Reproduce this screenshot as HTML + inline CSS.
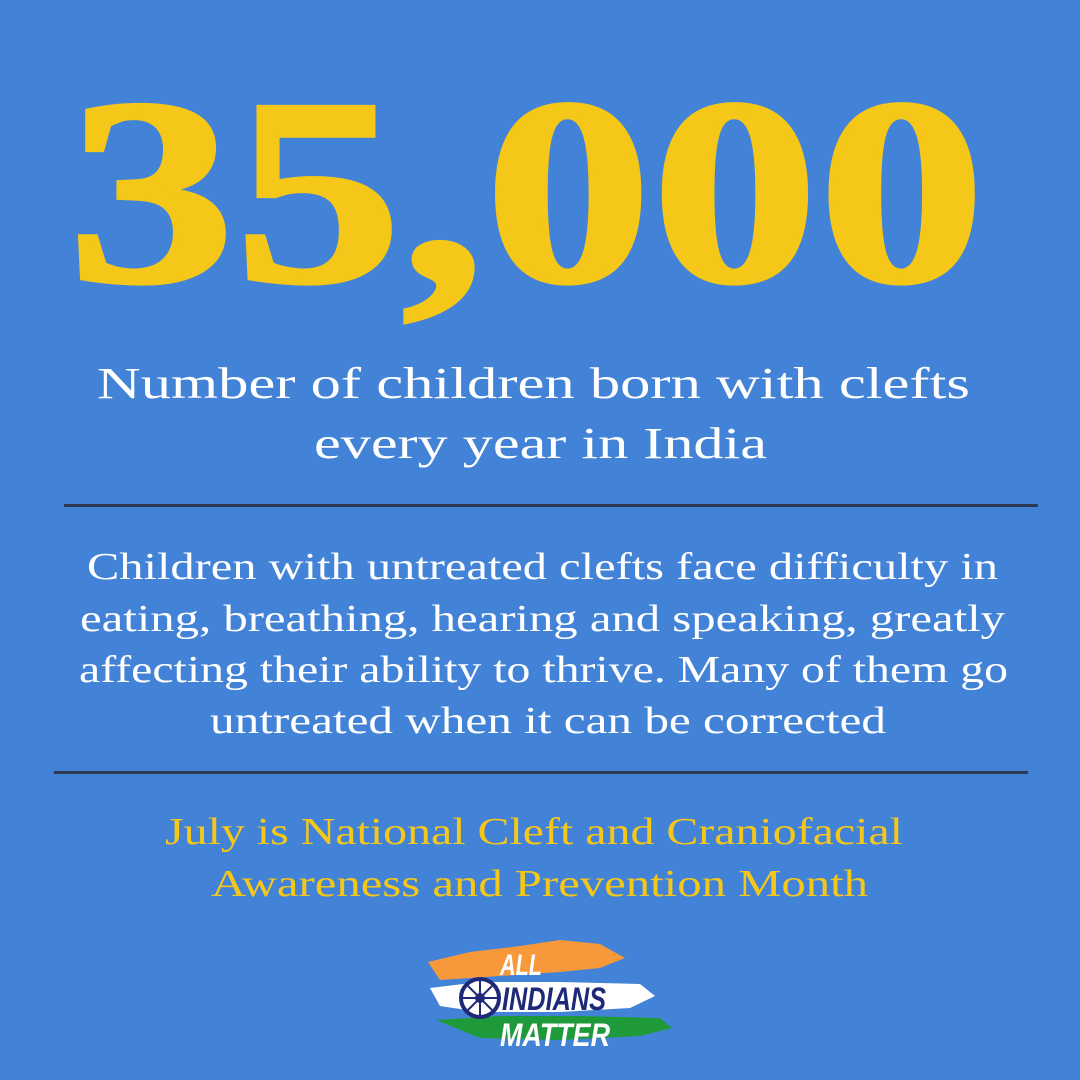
<!DOCTYPE html>
<html><head><meta charset="utf-8"><style>
html,body{margin:0;padding:0;background:#4383d7;}
svg{display:block}
</style></head><body>
<svg width="1080" height="1080" viewBox="0 0 1080 1080" xmlns="http://www.w3.org/2000/svg">
<rect width="1080" height="1080" fill="#4383d7"/>
<text x="68" y="281" font-family="Liberation Serif, serif" font-weight="bold" font-size="266" fill="#f5c718" stroke="#f5c718" stroke-width="4" textLength="917" lengthAdjust="spacingAndGlyphs">35,000</text>
<g font-family="Liberation Serif, serif" fill="#ffffff" font-size="44">
<text x="97" y="398" textLength="873" lengthAdjust="spacingAndGlyphs">Number of children born with clefts</text>
<text x="314" y="458" textLength="453" lengthAdjust="spacingAndGlyphs">every year in India</text>
</g>
<rect x="64" y="504" width="974" height="3" fill="#2e3a55"/>
<g font-family="Liberation Serif, serif" fill="#ffffff" font-size="38">
<text x="87" y="579" textLength="911" lengthAdjust="spacingAndGlyphs">Children with untreated clefts face difficulty in</text>
<text x="80" y="631" textLength="925" lengthAdjust="spacingAndGlyphs">eating, breathing, hearing and speaking, greatly</text>
<text x="79" y="682" textLength="929" lengthAdjust="spacingAndGlyphs">affecting their ability to thrive. Many of them go</text>
<text x="210" y="733" textLength="676" lengthAdjust="spacingAndGlyphs">untreated when it can be corrected</text>
</g>
<rect x="54" y="771" width="974" height="3" fill="#2e3a55"/>
<g font-family="Liberation Serif, serif" fill="#f5c718" font-size="38">
<text x="165" y="844" textLength="738" lengthAdjust="spacingAndGlyphs">July is National Cleft and Craniofacial</text>
<text x="211" y="896" textLength="657" lengthAdjust="spacingAndGlyphs">Awareness and Prevention Month</text>
</g>
<g>
<path d="M428 962 L470 952 L520 946 L560 940 L600 944 L625 958 L600 968 L560 972 L500 976 L440 980 Z" fill="#f7993a"/>
<path d="M430 988 L480 982 L560 982 L640 984 L655 996 L630 1008 L560 1012 L480 1012 L440 1006 Z" fill="#ffffff"/>
<path d="M436 1020 L500 1016 L580 1016 L660 1018 L672 1028 L640 1036 L560 1040 L480 1038 Z" fill="#1f9a3a"/>
<circle cx="480" cy="998" r="19" fill="#fff" stroke="#1e2a78" stroke-width="4"/>
<circle cx="480" cy="998" r="5" fill="#1e2a78"/>
<g stroke="#1e2a78" stroke-width="2">
<line x1="480" y1="981" x2="480" y2="1015"/><line x1="463" y1="998" x2="497" y2="998"/>
<line x1="468" y1="986" x2="492" y2="1010"/><line x1="492" y1="986" x2="468" y2="1010"/>
</g>
<g font-family="Liberation Sans, sans-serif" font-weight="bold" font-style="italic">
<text x="500" y="975" font-size="30" fill="#fff" textLength="42" lengthAdjust="spacingAndGlyphs">ALL</text>
<text x="502" y="1010" font-size="32" fill="#1e2a78" textLength="104" lengthAdjust="spacingAndGlyphs">INDIANS</text>
<text x="500" y="1046" font-size="32" fill="#fff" textLength="110" lengthAdjust="spacingAndGlyphs">MATTER</text>
</g>
</g>
</svg>
</body></html>
